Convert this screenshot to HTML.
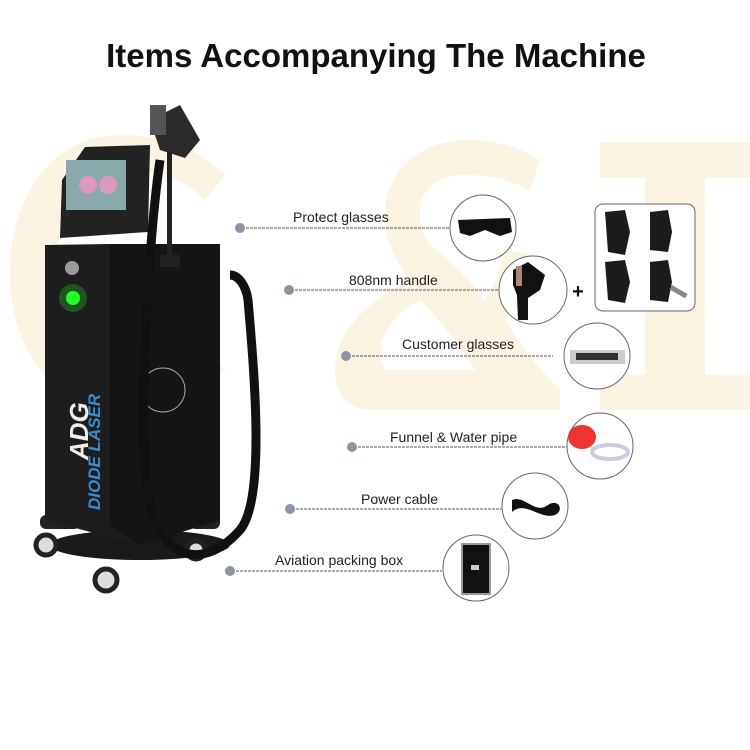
<!DOCTYPE html>
<html><head><style>
html,body{margin:0;padding:0;background:#fff;}
svg{display:block;}
text{font-family:"Liberation Sans",Arial,sans-serif;}
</style></head><body>
<svg width="750" height="750" viewBox="0 0 750 750" xmlns="http://www.w3.org/2000/svg">
<rect width="750" height="750" fill="#fff"/>
<!-- watermark -->
<g fill="#fcf4e2">
<path d="M225 175 C190 140 150 135 120 135 C50 135 10 200 10 275 C10 350 55 410 125 410 C165 410 200 395 225 370 L205 345 C185 365 160 375 130 375 C80 375 55 330 55 275 C55 215 85 170 130 170 C160 170 185 180 205 200 Z"/>
<path d="M470 140 C420 140 385 170 385 215 C385 240 395 260 410 280 C370 300 335 330 335 370 C335 395 350 410 370 410 L560 410 L560 390 C540 370 520 345 505 320 C520 300 530 280 535 255 L505 250 C500 270 495 285 485 300 C470 280 450 260 430 245 C420 230 420 220 420 210 C420 190 440 175 465 175 C490 175 510 180 530 190 L540 160 C520 148 495 140 470 140 Z M420 300 C440 320 460 345 475 370 L385 370 C375 355 380 320 420 300 Z"/>
<rect x="600" y="142" width="150" height="36"/>
<rect x="645" y="142" width="60" height="268"/>
<rect x="600" y="375" width="150" height="35"/>
</g>
<text x="376" y="67" text-anchor="middle" font-size="33" font-weight="bold" fill="#111">Items Accompanying The Machine</text>

<!-- machine -->
<g>
<ellipse cx="140" cy="545" rx="90" ry="15" fill="#1a1a1a"/>
<rect x="40" y="515" width="40" height="14" rx="6" fill="#222"/>
<rect x="190" y="515" width="30" height="14" rx="6" fill="#222"/>
<circle cx="46" cy="545" r="10" fill="#ddd" stroke="#222" stroke-width="5"/>
<circle cx="106" cy="580" r="11" fill="#ddd" stroke="#222" stroke-width="5"/>
<circle cx="196" cy="550" r="9" fill="#ddd" stroke="#222" stroke-width="5"/>
<polygon points="45,245 110,244 220,244 220,520 140,545 45,520" fill="#1d1d1d"/>
<polygon points="110,244 220,244 220,520 140,545 110,525" fill="#151515"/>
<circle cx="72" cy="268" r="7" fill="#999"/>
<circle cx="73" cy="298" r="7" fill="#2f2"/>
<circle cx="73" cy="298" r="14" fill="#2f2" opacity="0.25"/>
<text transform="translate(88,460) rotate(-90)" font-size="26" font-weight="bold" font-style="italic" fill="#eee">ADG</text>
<text transform="translate(100,510) rotate(-90)" font-size="17" font-weight="bold" font-style="italic" fill="#3a8ccc">DIODE LASER</text>
<circle cx="163" cy="390" r="22" fill="none" stroke="#aaa" stroke-width="1"/>
<!-- screen -->
<polygon points="85,147 150,145 148,232 60,238 62,180" fill="#222"/>
<rect x="66" y="160" width="60" height="50" fill="#8aa"/>
<circle cx="88" cy="185" r="9" fill="#d9b"/>
<circle cx="108" cy="185" r="9" fill="#d9b"/>
<!-- arm -->
<rect x="167" y="150" width="5" height="110" fill="#222"/>
<rect x="160" y="255" width="20" height="12" fill="#222"/>
<polygon points="150,120 180,105 200,140 185,158 160,150" fill="#2a2a2a"/>
<rect x="150" y="105" width="16" height="30" fill="#555"/>
<path d="M160 160 C150 230 140 380 145 470 C150 560 200 575 240 530 C265 500 255 380 248 300 C246 285 238 275 230 275" fill="none" stroke="#111" stroke-width="9"/>
</g>

<!-- rows -->
<g stroke="#555" stroke-width="1" stroke-dasharray="3,1" fill="none">
<line x1="246" y1="228" x2="450" y2="228"/>
<line x1="295" y1="290" x2="499" y2="290"/>
<line x1="352" y1="356" x2="553" y2="356"/>
<line x1="358" y1="447" x2="567" y2="447"/>
<line x1="296" y1="509" x2="502" y2="509"/>
<line x1="236" y1="571" x2="442" y2="571"/>
</g>
<g fill="#8a96a4">
<circle cx="240" cy="228" r="5"/>
<circle cx="289" cy="290" r="5"/>
<circle cx="346" cy="356" r="5"/>
<circle cx="352" cy="447" r="5"/>
<circle cx="290" cy="509" r="5"/>
<circle cx="230" cy="571" r="5"/>
</g>
<g font-size="14" fill="#222">
<text x="293" y="222">Protect glasses</text>
<text x="349" y="285">808nm handle</text>
<text x="402" y="349">Customer glasses</text>
<text x="390" y="442">Funnel &amp; Water pipe</text>
<text x="361" y="504">Power cable</text>
<text x="275" y="565">Aviation packing box</text>
</g>
<g fill="#fff" stroke="#666" stroke-width="1">
<circle cx="483" cy="228" r="33"/>
<circle cx="533" cy="290" r="34"/>
<circle cx="597" cy="356" r="33"/>
<circle cx="600" cy="446" r="33"/>
<circle cx="535" cy="506" r="33"/>
<circle cx="476" cy="568" r="33"/>
<rect x="595" y="204" width="100" height="107" rx="8"/>
</g>
<text x="578" y="298" font-size="20" font-weight="bold" fill="#111" text-anchor="middle">+</text>
<!-- item graphics -->
<path d="M458 220 L510 218 L512 232 L500 236 L485 230 L470 236 L460 233 Z" fill="#111"/>
<path d="M513 270 L528 262 L545 275 L540 290 L528 298 L528 320 L518 320 L517 295 L513 285 Z" fill="#111"/>
<rect x="516" y="266" width="6" height="20" fill="#a87"/>
<g fill="#1b1b1b">
<path d="M605 212 L625 210 L630 232 L625 255 L608 252 Z"/>
<path d="M650 212 L668 210 L672 232 L668 252 L650 250 Z"/>
<path d="M605 262 L625 260 L630 282 L625 303 L608 300 Z"/>
<path d="M650 262 L668 260 L672 282 L668 302 L650 300 Z"/>
</g>
<rect x="672" y="285" width="18" height="5" fill="#888" transform="rotate(30 672 285)"/>
<rect x="570" y="350" width="55" height="14" fill="#ccc"/>
<rect x="576" y="353" width="42" height="7" fill="#333"/>
<ellipse cx="582" cy="437" rx="14" ry="12" fill="#e33"/>
<ellipse cx="610" cy="452" rx="18" ry="7" fill="none" stroke="#ccd" stroke-width="4"/>
<path d="M512 500 C525 495 535 515 548 505 C558 498 565 510 555 515 C540 520 525 500 512 512 Z" fill="#111"/>
<rect x="462" y="544" width="28" height="50" fill="#111" stroke="#999" stroke-width="2"/>
<rect x="471" y="565" width="8" height="5" fill="#ccc"/>
</svg>
</body></html>
